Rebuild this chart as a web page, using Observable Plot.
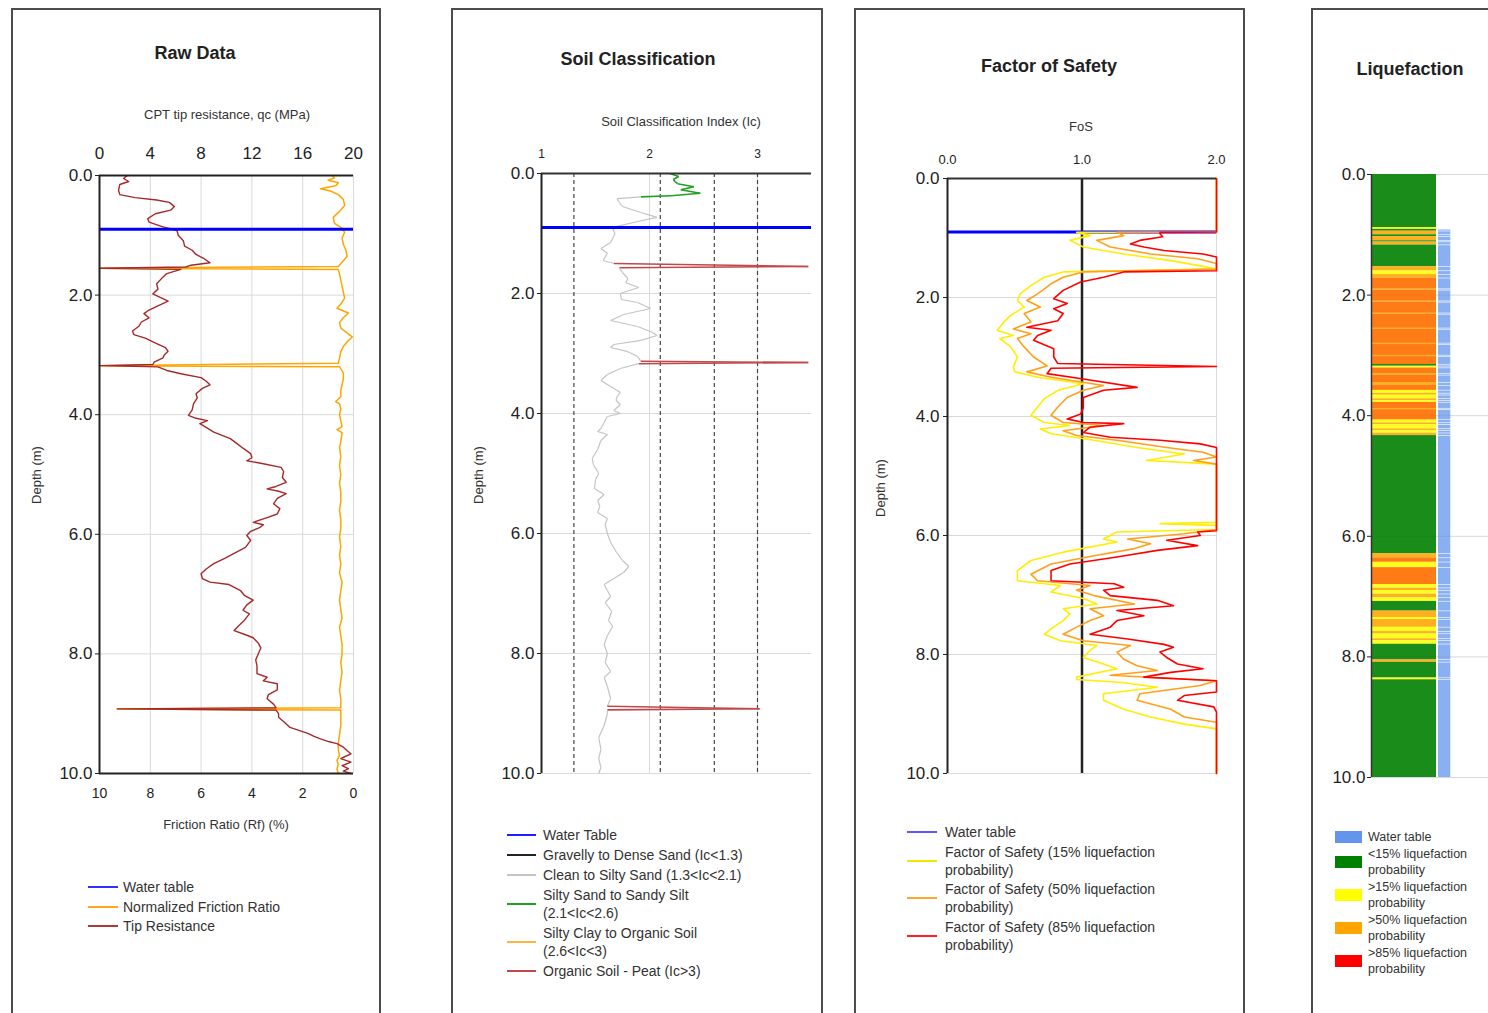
<!DOCTYPE html>
<html><head><meta charset="utf-8">
<script src="https://cdn.jsdelivr.net/npm/d3@7"></script>
<script src="https://cdn.jsdelivr.net/npm/@observablehq/plot@0.6"></script>
<style>
body{margin:0;background:#fff;overflow:hidden;font-family:"Liberation Sans",Arial,sans-serif;}
#root{position:relative;width:1488px;height:1013px;overflow:hidden;background:#fff;}
.panel{position:absolute;top:8px;height:1040px;border:2px solid #4d4d4d;box-sizing:border-box;}
.c{position:absolute;transform:translate(-50%,-50%);white-space:nowrap;}
.title{font-weight:bold;font-size:18px;color:#222;}
.axt{font-size:13px;color:#333;}
.ylab{font-size:13px;color:#333;transform:translate(-50%,-50%) rotate(-90deg);}
.plot{position:absolute;}
.leg{position:absolute;color:#333;}
.leg .row{display:flex;align-items:center;}
.leg .sw{flex:none;}
</style></head>
<body><div id="root"></div>
<script>
// ---------- DATA ----------
const depthTicks = [0, 2, 4, 6, 8, 10];
const waterTable = 0.9;

// Panel 1: Raw data
const qcDepth = [0.00,0.05,0.10,0.15,0.25,0.32,0.37,0.41,0.45,0.52,0.58,0.64,0.72,0.78,0.86,0.92,1.00,1.09,1.18,1.25,1.32,1.40,1.46,1.50,1.53,1.55,1.57,1.64,1.72,1.81,1.90,1.98,2.05,2.10,2.18,2.25,2.31,2.38,2.45,2.52,2.60,2.66,2.72,2.81,2.88,2.94,3.00,3.05,3.12,3.16,3.18,3.20,3.26,3.32,3.38,3.44,3.50,3.56,3.65,3.72,3.82,3.92,4.01,4.06,4.10,4.15,4.20,4.29,4.35,4.40,4.48,4.56,4.65,4.72,4.77,4.82,4.88,4.95,5.05,5.13,5.20,5.24,5.28,5.32,5.40,5.49,5.57,5.66,5.72,5.80,5.84,5.89,5.95,6.02,6.10,6.22,6.32,6.40,6.49,6.58,6.66,6.74,6.80,6.84,6.94,7.02,7.10,7.18,7.27,7.33,7.44,7.52,7.61,7.68,7.73,7.82,7.90,8.00,8.10,8.20,8.33,8.39,8.45,8.50,8.60,8.68,8.75,8.84,8.90,8.92,8.94,9.00,9.06,9.15,9.23,9.28,9.33,9.38,9.42,9.47,9.50,9.56,9.62,9.67,9.72,9.75,9.81,9.87,9.92,9.96,10.00];
const qcValues = [2.2,1.9,2.3,1.6,1.5,1.6,2.8,4.5,5.5,5.9,5.6,4.4,3.8,3.9,5.0,6.1,6.2,6.6,6.7,7.3,7.6,8.3,8.7,7.2,6.8,0.0,6.4,5.3,4.9,4.5,4.6,4.2,4.9,5.4,4.6,3.9,3.5,3.9,3.3,3.1,2.6,2.7,3.6,4.5,5.2,5.4,5.1,5.0,4.3,4.2,0.0,4.6,5.3,6.5,8.0,8.4,8.7,8.1,7.6,7.7,7.4,7.3,7.0,7.6,8.5,7.9,8.3,9.0,9.7,10.3,10.8,11.3,11.9,12.0,11.6,12.9,14.3,14.5,14.4,14.7,13.9,13.2,14.1,14.7,14.0,13.7,14.2,14.0,13.2,12.1,12.9,12.6,11.9,11.6,11.9,11.5,10.6,9.9,9.0,8.4,8.0,8.1,8.7,10.2,11.1,11.4,12.1,11.6,11.3,11.8,11.4,11.0,10.6,11.5,12.1,12.5,12.7,12.5,12.3,12.4,12.4,13.2,12.9,14.0,14.0,13.3,13.2,13.7,13.9,1.4,13.9,14.1,14.1,14.6,15.0,15.7,16.4,16.9,17.4,18.1,18.7,19.2,19.5,19.8,19.3,19.0,19.8,19.1,19.6,19.2,19.8];
const rfDepth = [0.00,0.04,0.08,0.12,0.17,0.22,0.26,0.32,0.40,0.50,0.60,0.70,0.80,0.88,0.95,1.05,1.15,1.25,1.35,1.45,1.52,1.55,1.57,1.65,1.75,1.85,1.95,2.05,2.15,2.22,2.30,2.38,2.46,2.55,2.62,2.70,2.78,2.86,2.95,3.05,3.14,3.18,3.20,3.30,3.40,3.50,3.60,3.70,3.78,3.82,3.90,4.00,4.10,4.20,4.25,4.30,4.45,4.55,4.70,4.85,5.00,5.15,5.30,5.45,5.60,5.75,5.90,6.05,6.20,6.35,6.50,6.65,6.80,6.95,7.10,7.25,7.40,7.55,7.70,7.85,8.00,8.15,8.30,8.45,8.60,8.75,8.90,8.92,8.94,9.05,9.20,9.35,9.50,9.60,9.70,9.78,9.85,9.92,10.00];
const rfValues = [0.85,0.75,1.0,0.6,0.7,1.3,0.9,0.6,0.4,0.35,0.55,0.8,0.75,0.45,0.35,0.45,0.4,0.3,0.25,0.45,0.6,10.0,0.6,0.55,0.5,0.45,0.4,0.35,0.5,0.65,0.2,0.4,0.55,0.5,0.3,0.05,0.25,0.4,0.5,0.55,0.6,10.0,0.55,0.4,0.4,0.45,0.5,0.5,0.7,0.55,0.5,0.55,0.5,0.45,0.65,0.45,0.5,0.55,0.5,0.55,0.5,0.55,0.5,0.5,0.55,0.5,0.5,0.55,0.5,0.55,0.5,0.55,0.45,0.5,0.55,0.5,0.45,0.55,0.5,0.45,0.45,0.5,0.45,0.5,0.55,0.5,0.5,9.3,0.5,0.5,0.5,0.55,0.6,0.6,0.55,0.65,0.6,0.65,0.6];
const qcTicks = [0, 4, 8, 12, 16, 20];
const rfTickLabels = [10, 8, 6, 4, 2, 0];

// Panel 2: Soil classification index
const icDepth = [0.00,0.05,0.10,0.14,0.17,0.22,0.27,0.33,0.37,0.39,0.42,0.48,0.55,0.65,0.73,0.80,0.88,0.92,1.00,1.08,1.15,1.25,1.33,1.45,1.50,1.55,1.57,1.65,1.75,1.82,1.90,2.00,2.10,2.15,2.25,2.35,2.45,2.55,2.65,2.70,2.78,2.85,2.90,2.97,3.05,3.13,3.15,3.17,3.25,3.35,3.45,3.55,3.65,3.72,3.78,3.85,3.95,4.00,4.05,4.15,4.25,4.30,4.35,4.45,4.60,4.75,4.85,5.00,5.10,5.25,5.35,5.45,5.55,5.65,5.75,5.85,6.00,6.15,6.30,6.45,6.55,6.65,6.75,6.85,6.95,7.05,7.15,7.30,7.45,7.55,7.70,7.85,8.00,8.15,8.30,8.40,8.55,8.75,8.88,8.92,8.94,9.00,9.20,9.40,9.60,9.75,9.90,10.00];
const icValues = [2.19,2.27,2.22,2.24,2.26,2.41,2.29,2.47,2.20,1.92,1.70,1.72,1.75,1.92,2.07,1.89,1.70,1.66,1.68,1.66,1.64,1.55,1.61,1.57,1.67,3.47,1.72,1.75,1.80,1.78,1.90,1.73,1.74,1.89,2.01,1.76,1.64,1.89,2.03,2.07,1.92,1.67,1.64,1.80,1.89,1.92,3.47,1.90,1.73,1.61,1.55,1.64,1.73,1.70,1.69,1.73,1.67,1.73,1.61,1.58,1.55,1.52,1.61,1.55,1.52,1.47,1.48,1.53,1.50,1.49,1.58,1.52,1.54,1.52,1.61,1.59,1.61,1.64,1.69,1.75,1.81,1.76,1.67,1.58,1.61,1.64,1.59,1.65,1.62,1.66,1.61,1.58,1.61,1.59,1.64,1.58,1.61,1.64,1.61,3.02,1.61,1.61,1.58,1.53,1.55,1.53,1.55,1.53];
const icTicks = [1, 2, 3];
const icBoundaries = [1.3, 2.1, 2.6, 3.0];
const soilClasses = ["Gravelly to Dense Sand (Ic&lt;1.3)", "Clean to Silty Sand (1.3&lt;Ic&lt;2.1)", "Silty Sand to Sandy Silt<br>(2.1&lt;Ic&lt;2.6)", "Silty Clay to Organic Soil<br>(2.6&lt;Ic&lt;3)", "Organic Soil - Peat (Ic&gt;3)"];
const soilColors = ["#222222", "#c4c4c4", "#22a022", "#ffb340", "#c0484a"];

// Panel 3: Factor of safety
const fos15Depth = [0.00,0.90,0.905,0.96,1.04,1.15,1.27,1.38,1.46,1.52,1.57,1.66,1.80,1.94,2.05,2.16,2.30,2.41,2.55,2.64,2.69,2.83,3.00,3.17,3.25,3.34,3.45,3.56,3.70,3.84,3.98,4.10,4.15,4.21,4.29,4.40,4.52,4.63,4.74,4.80,5.78,5.80,5.83,5.90,5.94,6.00,6.06,6.11,6.28,6.42,6.59,6.76,6.84,6.95,7.06,7.15,7.23,7.32,7.43,7.57,7.66,7.77,7.85,7.93,8.05,8.16,8.24,8.38,8.42,8.47,8.55,8.66,8.77,8.92,9.05,9.17,9.25,10.00];
const fos15 = [2.0,2.0,0.96,1.06,0.91,1.01,1.31,1.66,1.86,2.0,0.86,0.72,0.62,0.54,0.52,0.57,0.47,0.42,0.37,0.49,0.39,0.47,0.52,0.49,0.50,0.67,1.01,0.82,0.72,0.67,0.62,0.72,0.91,0.69,0.77,1.09,1.41,1.76,1.48,2.0,2.0,1.58,2.0,2.0,1.26,1.21,1.16,1.26,0.86,0.62,0.52,0.52,0.84,0.77,1.01,1.11,0.86,0.91,0.86,0.77,0.72,0.84,1.11,1.06,1.01,1.16,1.26,0.96,0.96,1.30,1.56,1.16,1.16,1.31,1.51,1.76,2.0,2.0];
const fos50Depth = [0.00,0.90,0.905,0.96,1.04,1.15,1.27,1.35,1.43,1.52,1.57,1.66,1.77,1.94,2.05,2.16,2.27,2.41,2.53,2.61,2.69,2.83,3.00,3.15,3.25,3.34,3.48,3.56,3.68,3.84,3.98,4.10,4.15,4.24,4.32,4.40,4.52,4.60,4.68,4.74,4.80,5.90,5.97,6.06,6.14,6.22,6.34,6.48,6.65,6.76,6.84,6.92,7.01,7.15,7.23,7.35,7.43,7.54,7.66,7.77,7.85,7.96,8.08,8.19,8.27,8.35,8.44,8.52,8.66,8.77,8.92,9.05,9.14,10.00];
const fos50 = [2.0,2.0,1.26,1.31,1.11,1.21,1.51,1.86,2.0,2.0,1.01,0.86,0.77,0.67,0.59,0.69,0.57,0.62,0.49,0.62,0.52,0.57,0.64,0.74,0.59,0.77,1.16,1.01,0.89,0.82,0.77,0.86,1.16,0.86,0.96,1.26,1.63,1.90,2.0,1.83,2.0,2.0,1.76,1.34,1.51,1.39,1.09,0.77,0.62,0.67,1.06,0.96,1.09,1.39,1.06,1.16,1.06,0.96,0.86,1.01,1.36,1.26,1.31,1.41,1.56,1.21,2.0,1.88,1.43,1.41,1.66,1.76,2.0,2.0];
const fos85Depth = [0.00,0.90,0.905,0.93,0.98,1.04,1.10,1.15,1.21,1.27,1.32,1.55,1.57,1.66,1.74,1.88,2.02,2.10,2.19,2.27,2.39,2.50,2.55,2.64,2.72,2.86,3.00,3.11,3.16,3.19,3.28,3.37,3.51,3.56,3.68,3.85,3.96,4.04,4.10,4.12,4.18,4.27,4.35,4.40,4.46,4.52,5.92,5.94,6.00,6.08,6.17,6.25,6.36,6.48,6.59,6.76,6.81,6.87,6.92,7.01,7.09,7.18,7.26,7.35,7.43,7.54,7.66,7.74,7.83,7.88,7.96,8.05,8.16,8.24,8.30,8.38,8.44,8.63,8.69,8.77,8.88,8.97,10.00];
const fos85 = [2.0,2.0,1.58,1.58,1.60,1.43,1.36,1.46,1.61,1.90,2.0,2.0,1.31,1.16,0.99,0.86,0.79,0.89,0.79,0.86,0.82,0.59,0.77,0.67,0.64,0.79,0.79,0.82,2.0,0.77,0.74,1.01,1.41,1.16,1.01,1.01,0.99,0.89,1.01,1.31,1.06,1.01,1.21,1.58,1.88,2.0,2.0,1.86,1.88,1.63,1.86,1.56,1.26,0.91,0.77,0.77,1.24,1.31,1.16,1.21,1.56,1.68,1.26,1.46,1.26,1.21,1.06,1.34,1.61,1.68,1.58,1.63,1.71,1.90,1.66,1.46,2.0,2.0,1.76,1.71,1.98,2.0,2.0];
const fosTicks = [0, 1, 2];

// Panel 4: Liquefaction column (band boundaries; band i spans liqDepths[i]..liqDepths[i+1])
const liqDepths = [0.00,0.88,0.91,0.94,1.00,1.03,1.10,1.12,1.17,1.53,1.60,1.66,1.72,1.90,1.92,2.10,2.12,2.30,2.32,2.55,2.57,2.80,2.82,3.00,3.02,3.15,3.18,3.21,3.30,3.33,3.45,3.50,3.58,3.63,3.66,3.72,3.75,3.78,3.88,3.90,4.07,4.12,4.15,4.22,4.25,4.29,4.33,6.29,6.36,6.43,6.52,6.80,6.86,6.90,6.96,7.02,7.08,7.24,7.35,7.38,7.51,7.58,7.62,7.70,7.73,7.79,8.05,8.09,8.35,8.38,10.00];
const liqClasses = ["<15%",">15%","<15%",">50%","<15%",">50%","<15%",">50%","<15%",">50%",">15%",">50%",">85%",">50%",">85%",">50%",">85%",">50%",">85%",">50%",">85%",">50%",">85%",">50%",">85%","<15%",">15%",">85%",">50%",">85%",">50%",">85%",">15%",">50%",">15%",">50%",">15%",">85%",">50%",">85%",">15%",">50%",">15%",">50%",">15%",">50%","<15%",">50%",">85%",">15%",">85%",">15%",">50%",">15%",">50%",">15%","<15%",">50%",">15%",">50%",">15%",">50%",">15%",">50%",">15%","<15%",">50%","<15%",">15%","<15%"];
const liqClassNames = ["<15%", ">15%", ">50%", ">85%"];
const liqColors = ["#008000", "#ffff00", "#ffa500", "#ff0000"];

// Legends
const leg1Labels = ["Water table", "Normalized Friction Ratio", "Tip Resistance"];
const leg1Colors = ["#3030ff", "#ffa520", "#b03a3a"];
const leg2Labels = ["Water Table"].concat(soilClasses);
const leg2Colors = ["#2020ff"].concat(soilColors);
const leg3Labels = ["Water table", "Factor of Safety (15% liquefaction<br>probability)", "Factor of Safety (50% liquefaction<br>probability)", "Factor of Safety (85% liquefaction<br>probability)"];
const leg3Colors = ["#5a5aff", "#f5e800", "#ffa530", "#ff2020"];
const leg4Labels = ["Water table", "&lt;15% liquefaction<br>probability", "&gt;15% liquefaction<br>probability", "&gt;50% liquefaction<br>probability", "&gt;85% liquefaction<br>probability"];
const leg4Colors = ["#6495ed"].concat(liqColors);

// ---------- BUILD ----------
const root = document.getElementById("root");
function add(html){ root.insertAdjacentHTML("beforeend", html); }
function place(node, left, top){ node.classList.add("plot"); node.style.left = left + "px"; node.style.top = top + "px"; root.appendChild(node); }

add('<div class="panel" style="left:11px;width:370px"></div>');
add('<div class="panel" style="left:451px;width:372px"></div>');
add('<div class="panel" style="left:854px;width:391px"></div>');
add('<div class="panel" style="left:1311px;width:420px"></div>');

const baseStyle = {fontFamily: "'Liberation Sans', Arial, sans-serif", fontSize: "17px", color: "#222", background: "transparent", overflow: "visible"};
const grid = "#d9d9d9";
const f1 = d3.format(".1f");

// Panel 1
const qcData = qcDepth.map((d, i) => ({depth: d, qc: qcValues[i]}));
const rfData = rfDepth.map((d, i) => ({depth: d, rf: rfValues[i]}));
const rfLabelAt = new Map(qcTicks.map((t, i) => [t, rfTickLabels[i]]));
const p1 = Plot.plot({
  width: 362, height: 753, marginLeft: 86, marginRight: 22, marginTop: 85, marginBottom: 70,
  style: baseStyle,
  x: {domain: [0, 20]}, y: {domain: [0, 10], reverse: true},
  marks: [
    Plot.gridY(depthTicks, {stroke: grid, strokeOpacity: 1}),
    Plot.gridX(qcTicks, {stroke: grid, strokeOpacity: 1}),
    Plot.axisX(qcTicks, {anchor: "top", tickSize: 0, tickPadding: 17, fontSize: 17, label: null}),
    Plot.axisX(qcTicks, {anchor: "bottom", tickSize: 0, tickPadding: 15, fontSize: 14, label: null, tickFormat: d => rfLabelAt.get(d)}),
    Plot.axisY(depthTicks, {anchor: "left", tickSize: 4, tickPadding: 3, tickFormat: f1, label: null}),
    Plot.line(rfData, {x: d => (10 - d.rf) * 2, y: "depth", stroke: "#ffa500", strokeWidth: 1.5}),
    Plot.line(qcData, {x: "qc", y: "depth", stroke: "#a52a2a", strokeWidth: 1.4}),
    Plot.ruleY([waterTable], {stroke: "#0000ff", strokeWidth: 3}),
    Plot.ruleY([0, 10], {stroke: "#222", strokeWidth: 2}),
    Plot.ruleX([0], {stroke: "#222", strokeWidth: 2})
  ]
});
place(p1, 13, 90);

// Panel 2
function soilClass(v){ return v < 1.3 ? 0 : v < 2.1 ? 1 : v < 2.6 ? 2 : v < 3.0 ? 3 : 4; }
const icSegs = icDepth.slice(1).map((d, i) => ({d1: icDepth[i], v1: icValues[i], d2: d, v2: icValues[i + 1]}));
const p2 = Plot.plot({
  width: 369, height: 723, marginLeft: 88, marginRight: 11, marginTop: 83, marginBottom: 40,
  style: baseStyle,
  x: {domain: [1, 3.5]}, y: {domain: [0, 10], reverse: true},
  marks: [
    Plot.gridY(depthTicks, {stroke: grid, strokeOpacity: 1}),
    Plot.gridX(icTicks, {stroke: grid, strokeOpacity: 1}),
    Plot.ruleX(icBoundaries, {stroke: "#444", strokeWidth: 1.2, strokeDasharray: "4,3"}),
    Plot.axisX(icTicks, {anchor: "top", tickSize: 0, tickPadding: 16, fontSize: 12, label: null}),
    Plot.axisY(depthTicks, {anchor: "left", tickSize: 4, tickPadding: 3, tickFormat: f1, label: null}),
    Plot.link(icSegs, {x1: "v1", y1: "d1", x2: "v2", y2: "d2", stroke: d => soilColors[soilClass(Math.max(d.v1, d.v2))], strokeWidth: d => soilClass(Math.max(d.v1, d.v2)) === 1 ? 1.2 : 1.6}),
    Plot.ruleY([waterTable], {stroke: "#0000ff", strokeWidth: 3}),
    Plot.ruleY([0], {stroke: "#333", strokeWidth: 2}),
    Plot.ruleX([1], {stroke: "#222", strokeWidth: 2})
  ]
});
place(p2, 453, 90);

// Panel 3
const mk = (ds, vs) => ds.map((d, i) => ({depth: d, fos: vs[i]}));
const p3 = Plot.plot({
  width: 380, height: 723, marginLeft: 91, marginRight: 20, marginTop: 88, marginBottom: 40,
  style: baseStyle,
  x: {domain: [0, 2]}, y: {domain: [0, 10], reverse: true},
  marks: [
    Plot.gridY(depthTicks, {stroke: grid, strokeOpacity: 1}),
    Plot.gridX([2], {stroke: grid, strokeOpacity: 1}),
    Plot.axisX(fosTicks, {anchor: "top", tickSize: 0, tickPadding: 15, fontSize: 13, tickFormat: f1, label: null}),
    Plot.axisY(depthTicks, {anchor: "left", tickSize: 4, tickPadding: 4, tickFormat: f1, label: null}),
    Plot.ruleX([1], {stroke: "#222", strokeWidth: 2.5}),
    Plot.ruleY([waterTable], {stroke: "#0000ff", strokeWidth: 3}),
    Plot.line(mk(fos15Depth, fos15), {x: "fos", y: "depth", stroke: "#ffee00", strokeWidth: 1.6}),
    Plot.line(mk(fos50Depth, fos50), {x: "fos", y: "depth", stroke: "#ff9f1a", strokeWidth: 1.6}),
    Plot.line(mk(fos85Depth, fos85), {x: "fos", y: "depth", stroke: "#ff0000", strokeWidth: 1.6}),
    Plot.ruleY([0], {stroke: "#333", strokeWidth: 2}),
    Plot.ruleX([0], {stroke: "#222", strokeWidth: 2})
  ]
});
place(p3, 856, 90);

// Panel 4
const bands = liqClasses.map((c, i) => ({top: liqDepths[i], bottom: liqDepths[i + 1], k: liqClassNames.indexOf(c)}));
const wtBands = bands.filter(b => b.bottom > waterTable).map(b => ({top: Math.max(b.top, waterTable), bottom: b.bottom}));
const p4 = Plot.plot({
  width: 400, height: 727, marginLeft: 58, marginRight: 17, marginTop: 84, marginBottom: 40,
  style: baseStyle,
  x: {domain: [0, 5], axis: null}, y: {domain: [0, 10], reverse: true},
  marks: [
    Plot.gridY(depthTicks, {stroke: grid, strokeOpacity: 1}),
    Plot.axisY(depthTicks, {anchor: "left", tickSize: 4, tickPadding: 2, tickFormat: f1, label: null}),
    // base layer: each band, with the highest class shown over the >50% tone
    Plot.rect(bands, {x1: 0, x2: 1, y1: "top", y2: "bottom", fill: d => liqColors[Math.min(d.k, 2)], fillOpacity: d => d.k === 0 ? 0.9 : 0.88}),
    Plot.rect(bands.filter(b => b.k === 3), {x1: 0, x2: 1, y1: "top", y2: "bottom", fill: liqColors[3], fillOpacity: 0.3}),
    Plot.rect(wtBands, {x1: 1.03, x2: 1.22, y1: "top", y2: "bottom", fill: "#6495ed", fillOpacity: 0.75, insetTop: 0.6}),
    Plot.ruleX([0], {y1: 0, y2: 10, stroke: "#333", strokeWidth: 1.5})
  ]
});
place(p4, 1313, 90);

// Titles and axis titles
add('<div class="c title" style="left:195px;top:53px">Raw Data</div>');
add('<div class="c axt" style="left:227px;top:114px">CPT tip resistance, qc (MPa)</div>');
add('<div class="c axt" style="left:226px;top:824px">Friction Ratio (Rf) (%)</div>');
add('<div class="c ylab" style="left:36px;top:475px">Depth (m)</div>');
add('<div class="c title" style="left:638px;top:59px">Soil Classification</div>');
add('<div class="c axt" style="left:681px;top:121px">Soil Classification Index (Ic)</div>');
add('<div class="c ylab" style="left:478px;top:475px">Depth (m)</div>');
add('<div class="c title" style="left:1049px;top:66px">Factor of Safety</div>');
add('<div class="c axt" style="left:1081px;top:126px">FoS</div>');
add('<div class="c ylab" style="left:880px;top:488px">Depth (m)</div>');
add('<div class="c title" style="left:1410px;top:69px">Liquefaction</div>');

// Legends
function legend(left, top, labels, colors, opts){
  let h = '<div class="leg" style="left:' + left + 'px;top:' + top + 'px;font-size:' + opts.fs + 'px;line-height:' + opts.lh + 'px">';
  labels.forEach((l, i) => {
    h += '<div class="row" style="margin-bottom:' + opts.gap + 'px"><div class="sw" style="width:' + opts.sw + 'px;height:' + opts.sh + 'px;background:' + colors[i] + ';margin-right:' + opts.mr + 'px"></div><div>' + l + '</div></div>';
  });
  root.insertAdjacentHTML("beforeend", h + '</div>');
}
legend(88, 878, leg1Labels, leg1Colors, {fs: 14, lh: 18, gap: 1.5, sw: 30, sh: 2, mr: 5});
legend(507, 826, leg2Labels, leg2Colors, {fs: 14, lh: 18, gap: 2, sw: 29, sh: 2, mr: 7});
legend(907, 823, leg3Labels, leg3Colors, {fs: 14, lh: 18, gap: 1.5, sw: 30, sh: 2, mr: 8});
legend(1335, 829, leg4Labels, leg4Colors, {fs: 12.5, lh: 16, gap: 1, sw: 27, sh: 12, mr: 6});
</script>
</body></html>
